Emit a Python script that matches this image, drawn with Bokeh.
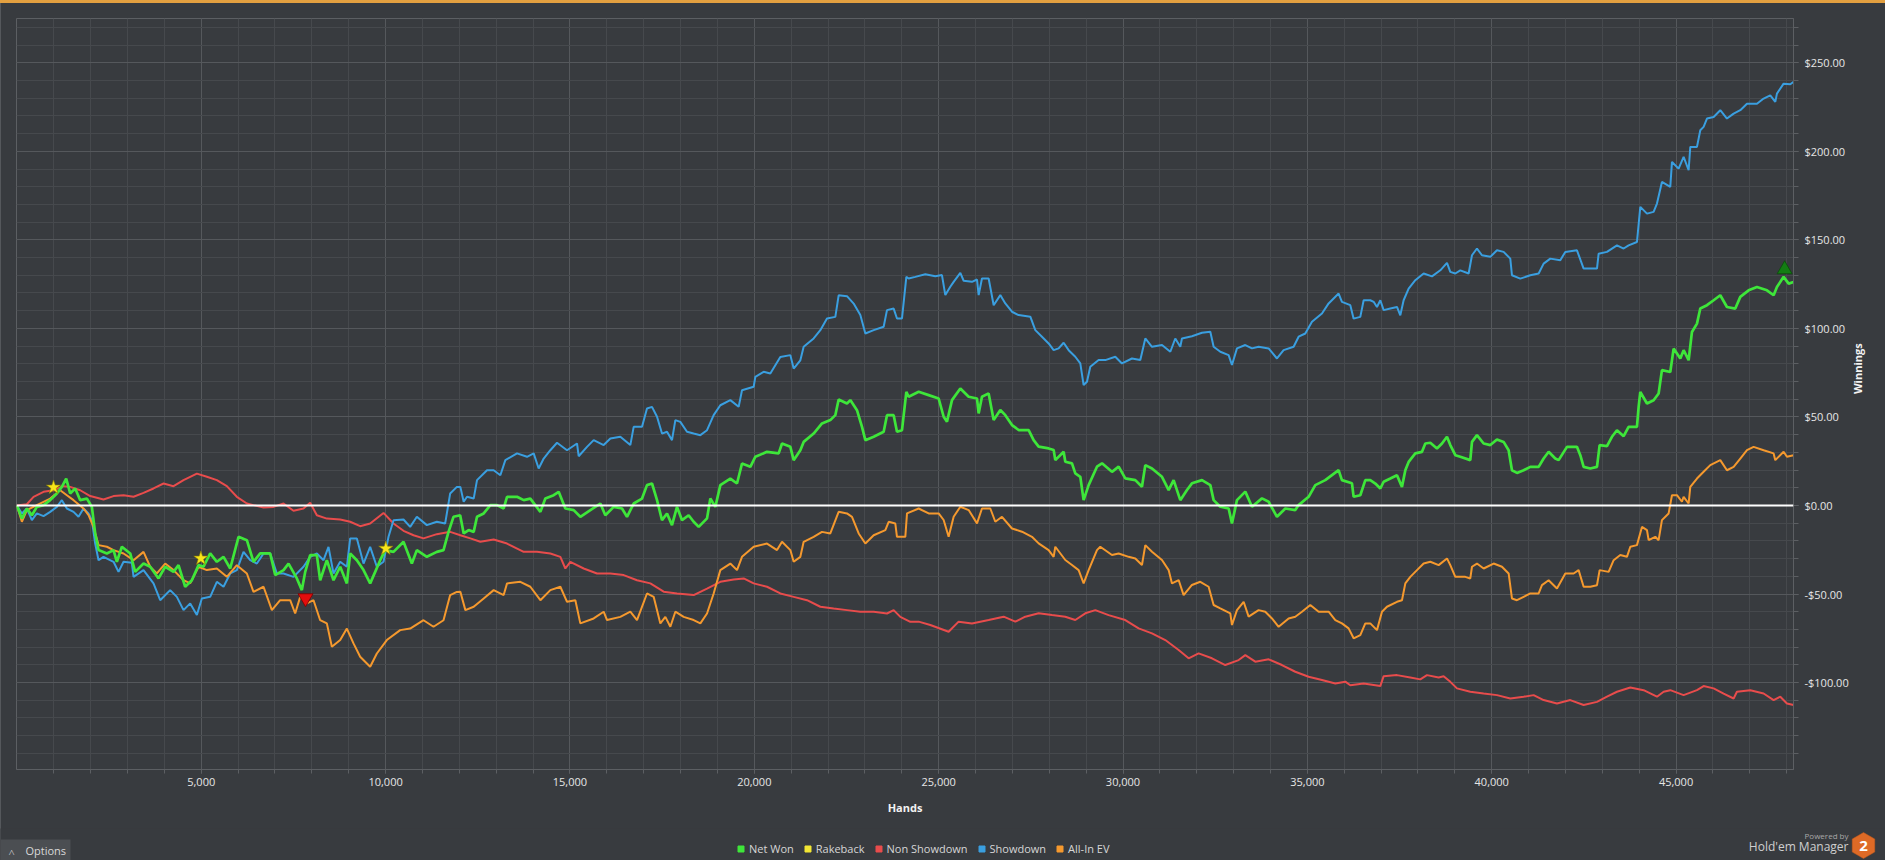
import math
from bokeh.plotting import figure
from bokeh.layouts import column
from bokeh.models import (Range1d, FixedTicker, CustomJSTickFormatter, NumeralTickFormatter,
                          Span, Legend, LegendItem)
from bokeh.core.properties import value
from bokeh.embed import file_html
from bokeh.resources import INLINE

# ---------------- data (hands, cumulative winnings $) ----------------
net_won = [(0, 0.0), (136, -7.4), (271, -1.7), (407, -5.5), (542, -0.8), (723, 0.2), (904, 3.0), (1085, 6.8),
    (1220, 10.5), (1338, 15.2), (1446, 6.8), (1582, 9.6), (1718, 3.0), (1898, 3.9), (2034, -0.8), (2124, -15.8),
    (2215, -25.2), (2441, -27.1), (2622, -25.2), (2712, -31.8), (2848, -23.3), (3074, -27.1), (3209, -37.5),
    (3435, -32.8), (3616, -34.6), (3842, -41.2), (4023, -34.6), (4249, -37.5), (4384, -33.7), (4565, -45.9),
    (4746, -42.2), (4927, -33.7), (5062, -34.6), (5243, -27.1), (5424, -31.8), (5605, -29.0), (5786, -35.6),
    (6012, -17.7), (6238, -19.6), (6418, -31.8), (6599, -27.1), (6870, -27.1), (7006, -39.3), (7232, -36.5),
    (7368, -32.8), (7594, -41.2), (7729, -47.8), (7820, -37.5), (7955, -28.0), (8136, -28.0), (8226, -42.2),
    (8407, -30.9), (8588, -42.2), (8769, -34.6), (8950, -44.0), (9040, -27.1), (9221, -30.9), (9402, -36.5),
    (9582, -44.0), (9718, -37.5), (9854, -30.9), (9989, -25.2), (10215, -26.2), (10486, -20.5), (10712, -32.8),
    (10848, -25.2), (11119, -29.0), (11390, -26.2), (11571, -25.2), (11707, -14.9), (11842, -6.4), (12023, -5.5),
    (12118, -15.8), (12254, -13.9), (12390, -14.9), (12480, -6.4), (12661, -4.5), (12842, 0.2), (13022, 0.2),
    (13203, -1.7), (13294, 4.9), (13565, 4.9), (13746, 3.0), (13926, 3.9), (14198, -3.6), (14333, 3.9),
    (14559, 5.8), (14695, 7.7), (14876, -1.7), (15102, -2.6), (15282, -6.4), (15554, -2.6), (15825, 1.1),
    (15960, -5.5), (16186, -0.8), (16412, -1.7), (16548, -6.4), (16729, 1.1), (16955, 3.9), (17090, 11.5),
    (17226, 12.4), (17362, 3.0), (17497, -8.3), (17633, -4.5), (17768, -11.1), (17904, -0.8), (18040, -8.3),
    (18220, -5.5), (18356, -9.2), (18492, -12.1), (18718, -7.3), (18808, 3.9), (18944, -0.8), (19079, 11.5),
    (19350, 15.2), (19531, 12.4), (19667, 23.7), (19893, 21.8), (20028, 27.5), (20345, 30.3), (20661, 29.4),
    (20752, 35.0), (20978, 33.1), (21068, 25.6), (21249, 31.2), (21339, 35.9), (21610, 40.6), (21836, 46.3),
    (22062, 48.2), (22198, 51.0), (22288, 59.8), (22514, 57.6), (22604, 59.5), (22785, 53.8), (22921, 44.4),
    (23012, 36.9), (23238, 38.8), (23509, 41.6), (23599, 51.0), (23780, 51.0), (23870, 41.6), (24006, 42.5),
    (24124, 64.2), (24186, 61.4), (24458, 64.2), (24729, 62.3), (25000, 60.4), (25136, 50.1), (25226, 47.3),
    (25362, 59.5), (25588, 66.1), (25814, 61.4), (26040, 60.4), (26085, 52.0), (26175, 61.4), (26356, 63.3),
    (26492, 48.2), (26672, 53.9), (26808, 51.0), (26989, 45.4), (27170, 42.6), (27441, 42.6), (27576, 36.9),
    (27712, 33.2), (27983, 32.2), (28119, 31.3), (28164, 25.6), (28390, 30.3), (28435, 24.7), (28616, 23.8),
    (28706, 18.1), (28842, 16.2), (28932, 3.0), (29068, 11.5), (29294, 21.9), (29430, 23.8), (29701, 19.0),
    (29882, 21.9), (30062, 15.3), (30334, 14.3), (30514, 10.6), (30605, 22.8), (30786, 20.9), (31057, 16.2),
    (31238, 8.7), (31373, 14.3), (31554, 3.0), (31735, 8.7), (31870, 12.5), (32142, 14.3), (32368, 11.5),
    (32458, 3.0), (32639, -0.7), (32865, -1.7), (32955, -10.1), (33091, 3.0), (33317, 7.8), (33498, -0.7),
    (33769, 4.0), (33950, 2.1), (34176, -6.4), (34402, -1.7), (34673, -2.6), (34763, 0.2), (35034, 4.9),
    (35215, 11.5), (35486, 14.3), (35848, 20.0), (35938, 14.3), (36210, 12.5), (36255, 4.9), (36436, 5.8),
    (36572, 14.3), (36707, 14.3), (36843, 12.4), (36979, 9.6), (37069, 13.4), (37250, 15.2), (37431, 17.1),
    (37566, 10.5), (37657, 19.9), (37747, 24.6), (37928, 29.4), (38109, 30.3), (38199, 35.0), (38335, 35.4),
    (38515, 32.2), (38651, 35.0), (38787, 38.8), (38877, 34.1), (39013, 28.4), (39148, 27.5), (39419, 25.6),
    (39465, 35.9), (39600, 39.7), (39781, 35.0), (39962, 34.1), (40143, 37.3), (40323, 35.9), (40459, 31.2),
    (40549, 19.9), (40685, 18.4), (40866, 19.9), (41047, 21.8), (41273, 21.8), (41408, 26.5), (41544, 30.3),
    (41724, 26.5), (41815, 25.6), (42041, 33.1), (42312, 33.1), (42403, 28.4), (42493, 21.8), (42674, 20.9),
    (42855, 21.8), (42927, 34.1), (43126, 33.5), (43261, 38.8), (43397, 42.5), (43578, 39.1), (43713, 44.4),
    (43939, 44.4), (43985, 55.7), (44030, 64.1), (44211, 57.6), (44391, 59.4), (44527, 63.2), (44617, 76.4),
    (44843, 75.4), (44934, 88.6), (45115, 83.0), (45205, 87.7), (45341, 82.0), (45431, 98.0), (45567, 102.7),
    (45657, 111.2), (45838, 113.1), (46019, 115.9), (46199, 118.7), (46380, 112.1), (46606, 111.2),
    (46742, 117.8), (46968, 121.5), (47194, 123.4), (47465, 121.5), (47646, 118.7), (47736, 123.4),
    (47917, 129.1), (48053, 125.3), (48188, 126.2)]

non_showdown = [(0, 0.0), (271, 0.7), (452, 4.9), (723, 7.7), (994, 8.6), (1266, 10.9), (1446, 10.5), (1718, 8.6),
    (1989, 5.3), (2350, 3.4), (2622, 5.3), (2893, 5.8), (3164, 4.9), (3435, 7.1), (3706, 9.6), (3978, 12.4),
    (4249, 10.9), (4520, 14.3), (4882, 18.0), (5153, 16.2), (5424, 14.3), (5695, 10.9), (5966, 4.9), (6238, 1.1),
    (6418, 0.2), (6690, -1.1), (6961, -0.8), (7232, 1.1), (7503, -3.0), (7774, -1.7), (7955, 1.5), (8136, -5.5),
    (8407, -7.4), (8769, -7.9), (9040, -9.2), (9311, -11.7), (9582, -10.2), (9944, -4.2), (10215, -10.2),
    (10486, -14.3), (10758, -16.8), (11029, -18.6), (11390, -16.2), (11752, -14.9), (12028, -16.8),
    (12299, -18.6), (12570, -20.5), (12932, -19.2), (13294, -21.5), (13746, -26.2), (14107, -26.2),
    (14469, -27.1), (14740, -29.0), (14876, -35.6), (15011, -31.8), (15373, -35.6), (15734, -38.4),
    (16096, -38.4), (16458, -39.3), (16819, -42.2), (17181, -44.0), (17542, -48.7), (17904, -49.7),
    (18356, -50.6), (18718, -46.9), (19079, -43.1), (19441, -41.8), (19712, -41.2), (19983, -44.0),
    (20345, -45.9), (20706, -49.7), (21068, -51.6), (21430, -53.5), (21791, -57.2), (22153, -58.2),
    (22514, -59.1), (22876, -60.0), (23238, -60.0), (23599, -61.0), (23780, -59.1), (23961, -62.9),
    (24232, -65.7), (24458, -65.6), (24774, -67.5), (25271, -71.3), (25542, -65.6), (25904, -66.6),
    (26356, -64.7), (26763, -62.8), (27079, -65.6), (27350, -62.8), (27712, -60.9), (28074, -61.9),
    (28435, -62.8), (28706, -64.7), (28978, -60.9), (29249, -59.1), (29610, -61.9), (30062, -64.7),
    (30424, -69.4), (30786, -72.2), (31147, -76.0), (31509, -81.6), (31780, -86.3), (32051, -83.5),
    (32413, -86.3), (32774, -90.1), (33136, -87.3), (33317, -84.5), (33588, -88.2), (33950, -86.9),
    (34311, -90.1), (34673, -93.9), (35034, -96.7), (35396, -98.6), (35758, -100.5), (36029, -99.5),
    (36165, -101.5), (36527, -100.5), (36979, -102.0), (37069, -96.4), (37431, -95.8), (37792, -97.1),
    (38063, -98.2), (38244, -95.8), (38561, -97.1), (38696, -96.4), (38877, -99.6), (39058, -103.3),
    (39419, -105.2), (39781, -106.2), (40143, -107.1), (40504, -109.0), (40866, -108.0), (41137, -107.1),
    (41408, -109.9), (41770, -111.8), (42131, -109.9), (42493, -112.7), (42855, -110.9), (43126, -108.0),
    (43397, -105.2), (43759, -102.8), (44120, -104.3), (44482, -108.0), (44663, -105.2), (44843, -104.3),
    (45205, -107.1), (45567, -104.3), (45747, -102.0), (46019, -103.3), (46290, -106.2), (46561, -109.0),
    (46651, -105.2), (47013, -104.3), (47375, -106.2), (47646, -109.9), (47827, -108.0), (48007, -111.8),
    (48188, -112.7)]

showdown = [(0, 0.0), (136, -4.5), (271, -1.7), (407, -8.3), (542, -4.5), (723, -6.0), (904, -3.6), (1085, -0.8),
    (1220, 3.0), (1356, -1.7), (1537, -3.6), (1672, -6.4), (1808, -1.7), (1944, -4.5), (2034, -8.3),
    (2124, -21.5), (2215, -30.9), (2350, -29.0), (2622, -31.8), (2757, -37.5), (2893, -31.8), (3119, -32.4),
    (3164, -40.3), (3435, -36.5), (3706, -44.0), (3887, -53.5), (4158, -47.8), (4339, -51.6), (4520, -59.1),
    (4701, -55.3), (4882, -61.9), (5017, -52.5), (5243, -51.6), (5424, -43.1), (5605, -45.9), (5786, -38.4),
    (5966, -36.5), (6147, -26.2), (6328, -30.9), (6509, -32.8), (6690, -27.1), (6870, -27.1), (7051, -38.4),
    (7232, -38.4), (7503, -40.3), (7774, -34.6), (7955, -29.0), (8136, -27.1), (8317, -30.9), (8452, -23.4),
    (8588, -38.4), (8769, -31.8), (8950, -34.6), (9040, -18.6), (9221, -18.6), (9402, -32.8), (9582, -23.4),
    (9763, -34.6), (9944, -31.8), (10080, -17.7), (10215, -8.3), (10486, -7.9), (10667, -12.1), (10848, -6.4),
    (11119, -11.1), (11390, -9.2), (11616, -10.2), (11752, 6.8), (11933, 10.5), (12028, 10.5), (12118, 2.1),
    (12209, 4.9), (12390, 3.9), (12480, 14.3), (12751, 19.9), (12932, 19.9), (13113, 17.1), (13248, 25.6),
    (13565, 29.4), (13836, 27.5), (14017, 29.4), (14152, 20.9), (14288, 26.5), (14469, 31.2), (14650, 35.4),
    (14921, 31.2), (15192, 35.0), (15237, 27.8), (15463, 33.1), (15644, 36.9), (15915, 34.1), (16096, 37.8),
    (16367, 38.8), (16638, 34.1), (16729, 44.4), (16955, 44.4), (17090, 54.8), (17226, 55.7), (17362, 50.1),
    (17497, 40.6), (17633, 41.6), (17768, 36.9), (17859, 48.2), (17994, 47.2), (18175, 41.6), (18356, 40.6),
    (18537, 39.7), (18718, 42.5), (18898, 51.0), (19079, 56.6), (19350, 59.5), (19576, 55.7), (19667, 65.1),
    (19983, 67.0), (20028, 72.6), (20254, 75.5), (20435, 74.5), (20706, 83.9), (20978, 84.9), (21068, 77.3),
    (21249, 82.0), (21339, 89.6), (21610, 94.3), (21791, 99.0), (21972, 105.6), (22198, 106.5),
    (22288, 118.7), (22514, 118.2), (22695, 114.0), (22876, 107.5), (23012, 97.1), (23238, 99.0),
    (23509, 100.9), (23599, 110.3), (23780, 111.2), (23870, 105.6), (24006, 105.6), (24124, 129.1),
    (24186, 128.2), (24367, 129.1), (24638, 130.6), (24910, 129.5), (25090, 130.1), (25181, 118.8),
    (25316, 123.5), (25407, 126.3), (25588, 131.4), (25678, 126.9), (25904, 126.3), (26040, 127.6),
    (26085, 118.8), (26175, 128.2), (26356, 128.2), (26492, 113.1), (26672, 118.8), (26808, 114.1),
    (26989, 109.4), (27170, 107.5), (27486, 106.6), (27622, 99.0), (27802, 95.3), (27983, 91.5),
    (28119, 87.7), (28254, 88.7), (28390, 91.9), (28526, 87.7), (28706, 84.0), (28842, 80.2), (28932, 68.0),
    (29023, 69.9), (29113, 78.3), (29339, 82.1), (29520, 82.1), (29791, 84.0), (29972, 80.2), (30243, 83.0),
    (30469, 82.1), (30605, 94.3), (30786, 89.6), (31057, 90.6), (31283, 86.8), (31418, 94.3), (31554, 89.6),
    (31599, 94.3), (31870, 95.6), (32142, 97.5), (32368, 98.1), (32458, 89.6), (32639, 86.8), (32865, 84.9),
    (32955, 79.3), (33091, 88.7), (33317, 90.6), (33498, 88.7), (33678, 89.6), (33950, 88.7), (34176, 83.0),
    (34356, 87.7), (34628, 89.6), (34763, 95.3), (34944, 97.1), (35125, 103.7), (35396, 108.4),
    (35577, 114.1), (35848, 119.7), (35938, 115.0), (36165, 113.1), (36255, 105.5), (36436, 106.5),
    (36527, 115.9), (36707, 115.9), (36798, 115.0), (36888, 112.1), (36979, 115.9), (37069, 110.3),
    (37250, 111.2), (37431, 112.1), (37521, 107.4), (37611, 115.9), (37747, 122.5), (37928, 127.2),
    (38154, 131.0), (38380, 129.4), (38606, 132.8), (38787, 137.0), (38877, 131.9), (39013, 131.0),
    (39148, 132.8), (39374, 131.0), (39465, 141.3), (39600, 145.1), (39736, 141.3), (39962, 140.4),
    (40143, 144.1), (40323, 143.2), (40504, 139.4), (40549, 130.0), (40775, 128.1), (41047, 130.0),
    (41273, 131.0), (41408, 136.6), (41589, 139.4), (41860, 138.5), (41996, 143.2), (42312, 144.1),
    (42493, 133.8), (42674, 133.8), (42855, 133.8), (42900, 142.2), (43126, 143.2), (43397, 146.9),
    (43578, 145.1), (43713, 146.9), (43939, 148.8), (44030, 168.6), (44211, 164.8), (44391, 165.8),
    (44482, 170.5), (44617, 182.7), (44843, 179.9), (44889, 194.0), (45069, 190.2), (45205, 196.8),
    (45341, 189.3), (45386, 202.5), (45567, 202.5), (45657, 211.9), (45747, 213.8), (45838, 218.5),
    (46019, 219.4), (46199, 223.2), (46380, 218.5), (46561, 221.3), (46742, 223.2), (46923, 226.9),
    (47194, 226.9), (47375, 229.8), (47555, 231.6), (47691, 227.9), (47736, 232.6), (47917, 238.2),
    (48098, 237.9), (48188, 239.2)]

all_in_ev = [(0, 0.0), (136, -9.2), (271, -2.6), (542, 0.2), (904, 3.9), (1175, 8.6), (1356, 5.8), (1537, 3.0),
    (1808, -1.7), (1944, -5.5), (2079, -12.1), (2215, -22.4), (2441, -23.3), (2622, -25.2), (2893, -27.1),
    (3164, -30.9), (3435, -26.2), (3616, -34.6), (3797, -38.4), (4023, -32.8), (4249, -36.5), (4520, -42.2),
    (4701, -44.0), (4927, -34.6), (5153, -36.5), (5424, -35.6), (5695, -40.3), (5966, -33.7), (6238, -38.4),
    (6418, -48.8), (6690, -45.9), (6916, -59.1), (7142, -53.5), (7413, -53.5), (7548, -61.0), (7684, -51.6),
    (7865, -55.3), (8046, -53.5), (8226, -64.8), (8407, -66.6), (8543, -79.8), (8769, -76.0), (8950, -69.5),
    (9130, -77.9), (9311, -85.4), (9582, -91.1), (9763, -83.6), (10034, -76.0), (10396, -70.4),
    (10667, -69.5), (11029, -64.8), (11300, -68.5), (11571, -64.8), (11752, -50.6), (11933, -48.8),
    (12028, -48.7), (12164, -59.1), (12390, -57.2), (12661, -52.5), (12932, -47.8), (13203, -50.6),
    (13294, -44.0), (13655, -43.1), (13926, -45.9), (14198, -53.5), (14469, -47.8), (14740, -45.9),
    (14921, -54.4), (15147, -53.5), (15282, -66.6), (15644, -63.8), (15915, -60.0), (16006, -64.7),
    (16367, -62.9), (16638, -60.0), (16819, -64.7), (17090, -49.7), (17271, -51.6), (17452, -66.6),
    (17588, -62.9), (17723, -68.5), (17859, -60.0), (18085, -62.9), (18356, -64.7), (18537, -66.6),
    (18718, -61.0), (18898, -49.7), (19079, -36.5), (19350, -32.8), (19531, -36.5), (19667, -29.0),
    (19983, -23.3), (20345, -21.5), (20616, -25.2), (20752, -20.5), (20978, -25.2), (21068, -31.8),
    (21249, -29.0), (21339, -20.5), (21610, -17.7), (21836, -14.9), (22062, -15.8), (22288, -3.6),
    (22514, -4.5), (22650, -6.4), (22831, -15.8), (23012, -21.5), (23238, -16.8), (23554, -13.9),
    (23645, -9.2), (23825, -10.2), (23870, -17.7), (24096, -17.7), (24142, -4.5), (24458, -1.7),
    (24729, -4.5), (25000, -4.5), (25136, -8.2), (25271, -17.7), (25407, -6.4), (25588, -0.7), (25814, -2.6),
    (26040, -10.1), (26175, -1.7), (26401, -1.7), (26537, -9.2), (26718, -6.4), (26989, -13.0),
    (27260, -14.8), (27531, -17.7), (27712, -21.4), (27983, -25.2), (28119, -29.0), (28164, -23.3),
    (28435, -30.8), (28616, -33.6), (28797, -36.5), (28932, -44.0), (29068, -36.5), (29294, -25.2),
    (29384, -23.3), (29701, -28.0), (29882, -27.1), (30153, -29.0), (30334, -29.9), (30514, -33.6),
    (30605, -22.4), (30786, -26.1), (31057, -30.8), (31238, -36.5), (31328, -44.0), (31509, -42.1),
    (31644, -50.6), (31870, -44.9), (32096, -43.1), (32322, -45.9), (32458, -56.2), (32639, -58.1),
    (32910, -60.9), (32955, -67.5), (33091, -59.1), (33272, -54.4), (33407, -62.8), (33678, -59.1),
    (33859, -60.0), (34040, -63.8), (34221, -68.5), (34492, -63.8), (34673, -62.8), (34854, -60.0),
    (35080, -56.2), (35306, -60.0), (35577, -60.0), (35758, -64.7), (35938, -66.6), (36119, -69.4),
    (36255, -75.0), (36436, -73.2), (36572, -66.6), (36707, -66.6), (36888, -70.4), (37024, -60.0),
    (37159, -57.2), (37431, -54.4), (37566, -53.5), (37657, -44.0), (37792, -40.3), (37973, -36.5),
    (38154, -32.8), (38335, -31.8), (38561, -33.7), (38787, -29.9), (38877, -33.7), (39013, -40.3),
    (39284, -40.3), (39419, -41.2), (39465, -34.6), (39600, -32.8), (39781, -35.6), (40052, -32.8),
    (40278, -34.6), (40459, -38.4), (40549, -52.5), (40685, -53.5), (40866, -51.6), (41047, -49.7),
    (41273, -49.7), (41363, -45.0), (41544, -42.2), (41770, -46.9), (41996, -38.4), (42222, -38.4),
    (42357, -36.5), (42493, -45.9), (42674, -45.9), (42855, -45.0), (42927, -36.5), (43171, -37.5),
    (43307, -30.9), (43487, -28.0), (43668, -29.0), (43759, -23.3), (43939, -22.4), (44075, -12.1),
    (44211, -13.9), (44256, -19.6), (44437, -17.7), (44527, -19.6), (44617, -8.3), (44798, -4.5),
    (44889, 5.8), (45024, 5.8), (45160, 2.1), (45205, 4.9), (45341, 1.1), (45386, 10.5), (45567, 15.2),
    (45747, 19.0), (45928, 22.8), (46199, 25.6), (46380, 19.9), (46561, 21.8), (46742, 26.5), (46923, 31.2),
    (47103, 33.1), (47375, 31.2), (47646, 29.4), (47691, 25.6), (47917, 30.3), (48007, 27.5), (48188, 28.4)]

rakeback_star_hands = [994, 4990, 10007]
rakeback_star_values = [10.2, -29.9, -24.3]
low_marker_hands = [7829]
low_marker_values = [-52.3]
high_marker_hands = [47944]
high_marker_values = [133.3]

x_major_ticks = [5000, 10000, 15000, 20000, 25000, 30000, 35000, 40000, 45000]
x_minor_ticks = list(range(1000, 49000, 1000))
y_major_ticks = [-100, -50, 0, 50, 100, 150, 200, 250]
y_minor_ticks = list(range(-140, 280, 10))

series_names = ["Net Won", "Rakeback", "Non Showdown", "Showdown", "All-In EV"]

# ---------------- styling ----------------
BG = "#383b3f"
GRID_MAJOR = "#55585c"
GRID_MINOR = "#46494d"
FRAME = "#5c5f63"
TXT = "#e6e6e6"
FONT = "Open Sans"
C_NET = "#3ee63a"
C_RB = "#f2e634"
C_NSD = "#e84c4c"
C_SD = "#3a9fe0"
C_EV = "#f5992e"

# ---------------- main chart ----------------
p = figure(title=None, frame_width=1777, frame_height=751,
           min_border_left=16, min_border_top=18, min_border_right=92, min_border_bottom=59,
           x_range=Range1d(-10, 48185), y_range=Range1d(-149.1, 275.0),
           y_axis_location="right", output_backend="svg", toolbar_location=None,
           background_fill_color=BG, border_fill_color=None, border_fill_alpha=0,
           outline_line_color=FRAME, outline_line_width=1)
if "frame_align" in p.properties():
    p.frame_align = False

xt = FixedTicker(ticks=x_major_ticks, minor_ticks=x_minor_ticks)
yt = FixedTicker(ticks=y_major_ticks, minor_ticks=y_minor_ticks)
p.xaxis.ticker = xt
p.xgrid.ticker = xt
p.yaxis.ticker = yt
p.ygrid.ticker = yt

for g in (p.xgrid, p.ygrid):
    g.grid_line_color = GRID_MAJOR
    g.grid_line_width = 1
    g.minor_grid_line_color = GRID_MINOR
    g.minor_grid_line_width = 1

for ax in (p.xaxis, p.yaxis):
    ax.axis_line_color = FRAME
    ax.major_tick_line_color = FRAME
    ax.minor_tick_line_color = FRAME
    ax.major_tick_in = 0
    ax.minor_tick_in = 0
    ax.major_label_text_color = TXT
    ax.major_label_text_font = FONT
    ax.major_label_text_font_size = "11px"
    ax.axis_label_text_font = FONT
    ax.axis_label_text_font_style = "bold"
    ax.axis_label_text_font_size = "11px"
    ax.axis_label_text_color = "#f2f2f2"

p.xaxis.major_tick_out = 4
p.xaxis.minor_tick_out = 4
p.xaxis.major_label_standoff = 4
p.xaxis.formatter = NumeralTickFormatter(format="0,0")
p.xaxis.axis_label = "Hands"
p.xaxis.axis_label_standoff = 11

p.yaxis.major_tick_out = 5
p.yaxis.minor_tick_out = 5
p.yaxis.major_label_standoff = 6
p.yaxis.formatter = CustomJSTickFormatter(
    code="return (tick < 0 ? '-' : '') + '$' + Math.abs(tick).toFixed(2);")
p.yaxis.axis_label = "Winnings"
p.yaxis.axis_label_standoff = 6
yax = p.yaxis[0]
if "axis_label_orientation" in yax.properties():
    yax.axis_label_orientation = math.pi / 2

def xs(d):
    return [h for h, _ in d]

def ys(d):
    return [v for _, v in d]

p.line(xs(non_showdown), ys(non_showdown), line_color=C_NSD, line_width=2)
p.line(xs(showdown), ys(showdown), line_color=C_SD, line_width=2)
p.line(xs(all_in_ev), ys(all_in_ev), line_color=C_EV, line_width=2)
p.line(xs(net_won), ys(net_won), line_color=C_NET, line_width=2.7)

p.add_layout(Span(location=0, dimension="width", line_color="#ffffff", line_width=2))

p.scatter(rakeback_star_hands, rakeback_star_values, marker="star", size=15,
          fill_color="#f7e41a", line_color="#8a7d00", line_width=0.6)
p.scatter(low_marker_hands, low_marker_values, marker="inverted_triangle", size=15,
          fill_color="#e30d0d", line_color="#7a0000", line_width=0.8)
p.scatter(high_marker_hands, high_marker_values, marker="triangle", size=15,
          fill_color="#137d13", line_color="#0b4d0b", line_width=0.8)

# ---------------- bottom strip: options button, legend, branding ----------------
s = figure(title=None, width=1885, height=32, x_range=Range1d(0, 1885), y_range=Range1d(860, 828),
           x_axis_type=None, y_axis_type=None, output_backend="svg", toolbar_location=None,
           min_border=0, min_border_left=0, min_border_right=0, min_border_top=0, min_border_bottom=0,
           background_fill_color=BG, border_fill_color=None, border_fill_alpha=0,
           outline_line_color=None)
if "frame_align" in s.properties():
    s.frame_align = False
s.grid.visible = False

# "Options" button
s.quad(left=[0], right=[70], top=[839], bottom=[860], fill_color="#4b4e52", line_color=None)
s.text(x=[8], y=[851], text=["\u02c4"], text_font=value(FONT), text_font_size=value("11px"),
       text_color="#d9d9d9", text_baseline="middle", text_align="left")
s.text(x=[25], y=[850], text=["Options"], text_font=value(FONT), text_font_size=value("11px"),
       text_color="#d9d9d9", text_baseline="middle", text_align="left")

# legend (square swatches); each swatch renderer holds one point outside the strip's view
swatch_colors = [C_NET, C_RB, C_NSD, C_SD, C_EV]
items = []
for name, col in zip(series_names, swatch_colors):
    r = s.scatter([-50], [900], marker="square", size=6, fill_color=col, line_color=col)
    items.append(LegendItem(label=name, renderers=[r]))
legend = Legend(items=items, orientation="horizontal", location=(733, 4),
                glyph_width=15, glyph_height=15, label_standoff=1, spacing=6,
                padding=0, margin=0, border_line_alpha=0, background_fill_alpha=0,
                label_text_color="#d6d6d6", label_text_font=FONT,
                label_text_font_size="11px", label_height=12)
s.add_layout(legend)

# branding
s.text(x=[1848], y=[835], text=["Powered by"], text_font=value(FONT), text_font_size=value("8px"),
       text_color="#a8a8a8", text_baseline="middle", text_align="right")
s.text(x=[1848], y=[846], text=["Hold'em Manager"], text_font=value(FONT), text_font_size=value("12px"),
       text_color="#cfcfcf", text_baseline="middle", text_align="right")
s.scatter(x=[1863], y=[845], marker="hex", size=26, angle=math.pi / 6,
          fill_color="#de6a26", line_color="#c45a1c", line_width=0.5)
s.text(x=[1863], y=[845], text=["2"], text_font=value(FONT), text_font_size=value("15px"),
       text_font_style="bold", text_color="#ffffff", text_baseline="middle", text_align="center")

layout = column(p, s, spacing=0)

TEMPLATE = """{% block postamble %}
<style>
html { background: linear-gradient(#e3a040, #e3a040) top left / 100% 3px no-repeat,
                    linear-gradient(#55585c, #55585c) top left / 1px 100% no-repeat, #383b3f;
       overflow: hidden; }
body { margin: 0; background: transparent; overflow: hidden; }
</style>
{% endblock %}"""

open("out.html", "w").write(file_html(layout, INLINE, template=TEMPLATE))
